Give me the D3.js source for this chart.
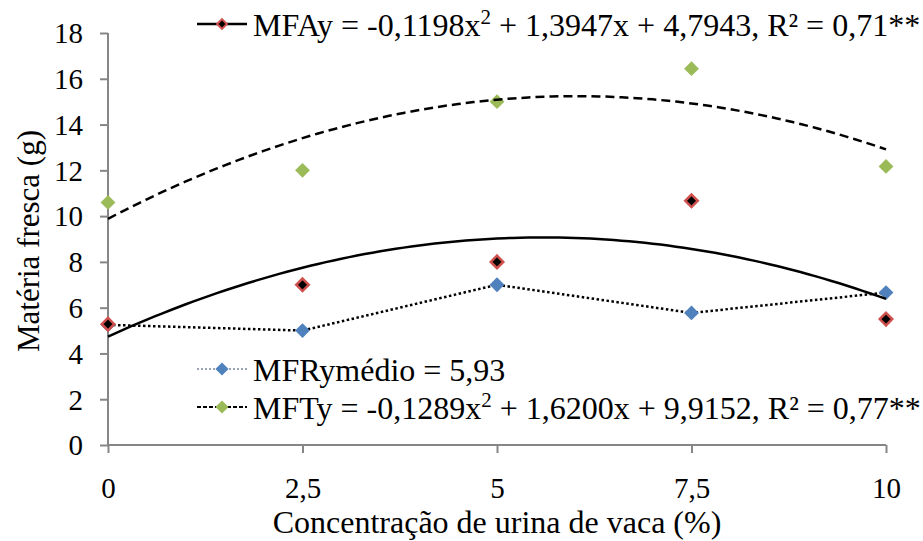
<!DOCTYPE html>
<html>
<head>
<meta charset="utf-8">
<script src="https://cdn.jsdelivr.net/npm/d3@7"></script>
</head>
<body style="margin:0;background:#fff">
<svg id="chart" width="923" height="541"></svg>
<script>
// data
const concentracao = [0, 2.5, 5, 7.5, 10]
const xTickLabels = ["0", "2,5", "5", "7,5", "10"]
const yTicks = [0, 2, 4, 6, 8, 10, 12, 14, 16, 18]
const mfa = [5.28, 7.0, 8.0, 10.67, 5.5]
const mfr = [5.25, 5.0, 7.0, 5.77, 6.66]
const mft = [10.6, 12.0, 15.0, 16.44, 12.17]

const FONT = "'Liberation Serif'"

var svg = d3.select("#chart")
var margin = {top: 33, right: 37, bottom: 96, left: 108}
var width = +svg.attr("width") - margin.left - margin.right
var height = +svg.attr("height") - margin.top - margin.bottom

var x = d3.scaleLinear().domain([0, 10]).range([0, width])
var y = d3.scaleLinear().domain([0, 18]).range([height, 0])

var g = svg.append("g").attr("transform", "translate(" + margin.left + "," + margin.top + ")")

// axes
var xAxis = g.append("g")
  .attr("transform", "translate(0," + height + ")")
  .call(d3.axisBottom(x).tickValues(concentracao).tickSize(8).tickPadding(24)
    .tickFormat(function(d, i) { return xTickLabels[i] }))
var yAxis = g.append("g")
  .call(d3.axisLeft(y).tickValues(yTicks).tickSize(8).tickPadding(17))

;[xAxis, yAxis].forEach(function(ax) {
  ax.attr("font-family", null).attr("font-size", null)
  ax.select(".domain").attr("stroke", "#868686").attr("stroke-width", 2)
  ax.selectAll(".tick line").attr("stroke", "#868686").attr("stroke-width", 2)
  ax.selectAll(".tick text").style("font-family", FONT).style("font-size", "29px").style("fill", "#000")
})
yAxis.selectAll(".tick text").attr("dy", "0.34em")
// axis lines without outer ticks
yAxis.select(".domain").attr("d", "M0," + height + "V0")
xAxis.select(".domain").attr("d", "M0,0H" + width)

// least squares quadratic trend (like a spreadsheet trendline)
function quadFit(xs, ys) {
  var S = [[0,0,0],[0,0,0],[0,0,0]], B = [0,0,0]
  xs.forEach(function(xv, i) {
    var p = [1, xv, xv * xv]
    for (var r = 0; r < 3; r++) {
      B[r] += p[r] * ys[i]
      for (var c = 0; c < 3; c++) S[r][c] += p[r] * p[c]
    }
  })
  // gaussian elimination
  for (var k = 0; k < 3; k++) {
    for (var r2 = k + 1; r2 < 3; r2++) {
      var f = S[r2][k] / S[k][k]
      for (var c2 = k; c2 < 3; c2++) S[r2][c2] -= f * S[k][c2]
      B[r2] -= f * B[k]
    }
  }
  var a = [0,0,0]
  for (var i2 = 2; i2 >= 0; i2--) {
    var s = B[i2]
    for (var j = i2 + 1; j < 3; j++) s -= S[i2][j] * a[j]
    a[i2] = s / S[i2][i2]
  }
  return function(xv) { return a[0] + a[1] * xv + a[2] * xv * xv }
}

var diamond = d3.symbol().type(d3.symbolDiamond2).size(140)
var line = d3.line()
  .x(function(d) { return x(d[0]) })
  .y(function(d) { return y(d[1]) })

var trendX = d3.range(0, 10.001, 0.1)

// MFR connected with dotted line
g.append("path")
  .datum(concentracao.map(function(c, i) { return [c, mfr[i]] }))
  .attr("fill", "none").attr("stroke", "#000").attr("stroke-width", 2.5)
  .attr("stroke-dasharray", "2.5,2.5")
  .attr("d", line)

g.selectAll(".mfr").data(mfr).enter().append("path")
  .attr("class", "mfr")
  .attr("transform", function(d, i) { return "translate(" + x(concentracao[i]) + "," + y(d) + ")" })
  .attr("d", diamond).attr("fill", "#4f81bd")

g.selectAll(".mfa").data(mfa).enter().append("path")
  .attr("class", "mfa")
  .attr("transform", function(d, i) { return "translate(" + x(concentracao[i]) + "," + y(d) + ")" })
  .attr("d", d3.symbol().type(d3.symbolDiamond2).size(100))
  .attr("fill", "#000").attr("stroke", "#d0504d").attr("stroke-width", 2.5)

g.selectAll(".mft").data(mft).enter().append("path")
  .attr("class", "mft")
  .attr("transform", function(d, i) { return "translate(" + x(concentracao[i]) + "," + y(d) + ")" })
  .attr("d", diamond).attr("fill", "#9bbb59")

// trendlines
var fitA = quadFit(concentracao, mfa)
var fitT = quadFit(concentracao, mft)

g.append("path")
  .datum(trendX.map(function(v) { return [v, fitA(v)] }))
  .attr("fill", "none").attr("stroke", "#000").attr("stroke-width", 2.5)
  .attr("d", line)

g.append("path")
  .datum(trendX.map(function(v) { return [v, fitT(v)] }))
  .attr("fill", "none").attr("stroke", "#000").attr("stroke-width", 2.5)
  .attr("stroke-dasharray", "9,5")
  .attr("d", line)

// legend
function legendEntry(ly, opts) {
  var lg = svg.append("g").attr("transform", "translate(0," + ly + ")")
  lg.append("line").attr("x1", 197).attr("x2", 247).attr("y1", 0).attr("y2", 0)
    .attr("stroke", opts.lineColor).attr("stroke-width", opts.lineWidth)
    .attr("stroke-dasharray", opts.dash || null)
  lg.append("path").attr("transform", "translate(222,0)")
    .attr("d", d3.symbol().type(d3.symbolDiamond2).size(opts.size || 110))
    .attr("fill", opts.fill).attr("stroke", opts.stroke || "none").attr("stroke-width", 2)
  var t = lg.append("text").attr("x", 253).attr("y", 12)
    .style("font-family", FONT).style("font-size", "32px")
  opts.parts.forEach(function(p) {
    var ts = t.append("tspan").text(p.t)
    if (p.sup) ts.style("font-size", "21px").attr("dy", -12)
    if (p.down) ts.attr("dy", 12)
  })
}

legendEntry(24, {
  lineColor: "#000", lineWidth: 2.5, fill: "#000", stroke: "#d0504d", size: 60,
  parts: [{t: "MFAy = -0,1198x"}, {t: "2", sup: true}, {t: " + 1,3947x + 4,7943, R² = 0,71**", down: true}]
})
legendEntry(369, {
  lineColor: "#9aa3b5", lineWidth: 2, dash: "2,2", fill: "#4f81bd", size: 110,
  parts: [{t: "MFRymédio = 5,93"}]
})
legendEntry(407, {
  lineColor: "#000", lineWidth: 2, dash: "4,2", fill: "#9bbb59", size: 110,
  parts: [{t: "MFTy = -0,1289x"}, {t: "2", sup: true}, {t: " + 1,6200x + 9,9152, R² = 0,77**", down: true}]
})

// axis titles
svg.append("text")
  .attr("x", margin.left + width / 2).attr("y", 533)
  .attr("text-anchor", "middle")
  .style("font-family", FONT).style("font-size", "32px")
  .text("Concentração de urina de vaca (%)")

svg.append("text")
  .attr("transform", "translate(39," + (margin.top + height / 2 + 2) + ") rotate(-90)")
  .attr("text-anchor", "middle")
  .style("font-family", FONT).style("font-size", "31px")
  .text("Matéria fresca (g)")
</script>
</body>
</html>
